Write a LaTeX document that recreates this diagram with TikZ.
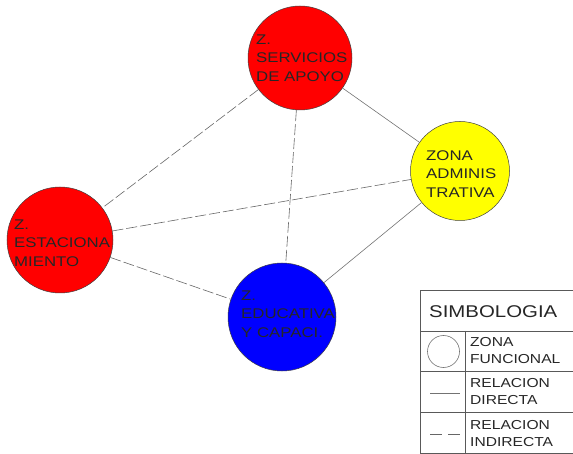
\documentclass[tikz,border=0pt]{standalone}
\usepackage{fontspec}
\newfontfamily\cadfont[FakeStretch=1.2]{Liberation Sans}
\usetikzlibrary{positioning}
\definecolor{zred}{HTML}{FF0000}
\definecolor{zyellow}{HTML}{FFFF00}
\definecolor{zblue}{HTML}{0000FF}
\definecolor{ink}{HTML}{262626}
\tikzset{
  zone/.style={circle, draw=black!75, line width=0.5pt, inner sep=0pt},
  zonetext/.style={anchor=west, align=left, inner sep=0pt, text=ink,
    font=\cadfont\fontsize{14}{18.5}\selectfont},
  direct/.style={draw=black!55, line width=0.6pt},
  indirect/.style={draw=black!60, line width=0.6pt, dash pattern=on 11pt off 3pt},
  legtext/.style={anchor=west, align=left, inner sep=0pt, text=ink,
    font=\cadfont\fontsize{13}{17}\selectfont},
}
\begin{document}
\begin{tikzpicture}[x=1pt,y=-1pt]
    \useasboundingbox (0,0) rectangle (573,454);

    % zones
    \node[zone, fill=zred, minimum size=104pt] (serv) at (300,58) {};
    \node[zone, fill=zyellow, minimum size=99pt] (admin) at (460,171) {};
    \node[zone, fill=zred, minimum size=106pt] (estac) at (60,240) {};
    \node[zone, fill=zblue, minimum size=108pt] (educ) at (282,317) {};

    % relations
    \draw[indirect] (serv) -- (estac);
    \draw[indirect] (serv) -- (educ);
    \draw[direct] (serv) -- (admin);
    \draw[indirect] (estac) -- (admin);
    \draw[indirect] (estac) -- (educ);
    \draw[direct] (admin) -- (educ);

    % zone labels
    \node[zonetext] (servtxt) at (256,58) {Z.\\SERVICIOS\\DE APOYO};
    \node[zonetext] (admintxt) at (426,174) {ZONA\\ADMINIS\\TRATIVA};
    \node[zonetext] (estactxt) at (14,243) {Z.\\ESTACIONA\\MIENTO};
    \node[zonetext] (eductxt) at (241,314) {Z.\\EDUCATIVA\\Y CAPACI.};

    % legend
    \draw[black!65, line width=0.6pt] (420,290) rectangle (573,453);
    \draw[black!65, line width=0.6pt] (420,331) -- (573,331);
    \draw[black!65, line width=0.6pt] (420,371) -- (573,371);
    \draw[black!65, line width=0.6pt] (420,412) -- (573,412);
    \draw[black!65, line width=0.6pt] (465,331) -- (465,453);
    \node[anchor=west, inner sep=0pt, text=ink,
      font=\cadfont\fontsize{17}{20}\selectfont] (legtitle) at (429,312) {SIMBOLOGIA};
    \node[circle, draw=black!55, line width=0.6pt, minimum size=32pt,
      inner sep=0pt] (legzone) at (443.5,351.5) {};
    \coordinate (ldirA) at (430,393);
    \coordinate (ldirB) at (460,393);
    \draw[direct] (ldirA) -- (ldirB);
    \coordinate (lindA) at (430,434);
    \coordinate (lindB) at (460,434);
    \draw[indirect, dash pattern=on 12pt off 6pt] (lindA) -- (lindB);
    \node[legtext] (legzonetxt) at (470,351) {ZONA\\FUNCIONAL};
    \node[legtext] (legdirtxt) at (470,392) {RELACION\\DIRECTA};
    \node[legtext] (legindtxt) at (470,434) {RELACION\\INDIRECTA};
\end{tikzpicture}
\end{document}
